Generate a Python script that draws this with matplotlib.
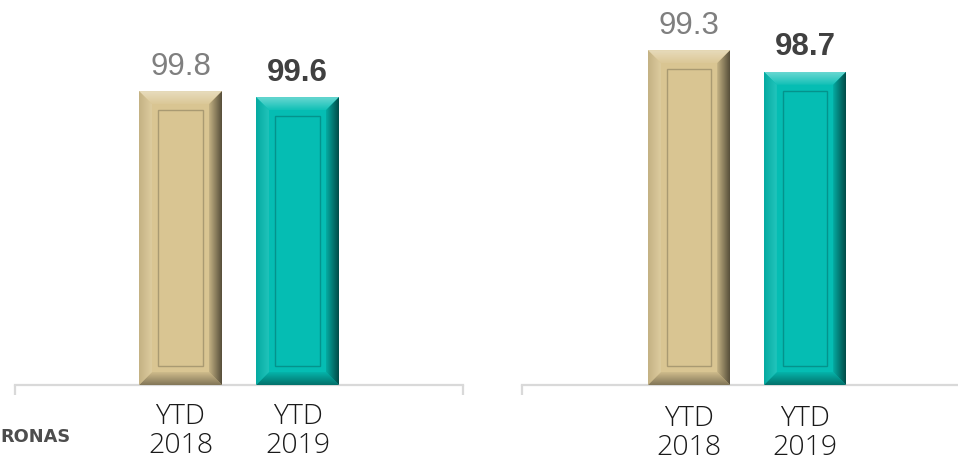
import matplotlib
matplotlib.use('Agg')
import matplotlib.pyplot as plt
import numpy as np
from matplotlib.colors import to_rgb
from matplotlib.patches import Polygon

# data
categories = ['YTD\n2018', 'YTD\n2019']
left_values = [99.8, 99.6]
right_values = [99.3, 98.7]
base_value = 90
bar_colors = ['#D9C592', '#05BDB3']
label_colors = ['#7F7F7F', '#404040']
label_weights = ['normal', 'bold']


def mix(c, other, t):
    c = np.array(to_rgb(c))
    o = np.array(to_rgb(other))
    return c * (1 - t) + o * t


def grad_fill(ax, poly_px, extent_px, c_from, c_to, horizontal):
    # poly and extent in pixel coords -> data coords
    inv = ax.transData.inverted()
    poly = inv.transform(poly_px)
    (x0, y0), (x1, y1) = inv.transform(extent_px)
    n = 40
    t = np.linspace(0, 1, n)
    cols = np.array([c_from * (1 - s) + c_to * s for s in t])
    if horizontal:
        img = cols.reshape(1, n, 3)
    else:
        img = cols.reshape(n, 1, 3)
    im = ax.imshow(img, extent=[x0, x1, y0, y1], origin='lower',
                   aspect='auto', interpolation='bilinear', zorder=3)
    clip = Polygon(poly, closed=True, transform=ax.transData)
    im.set_clip_path(clip)


def bevel(ax, bar, color, b=13, inset=6):
    x0, y0 = bar.get_x(), bar.get_y()
    x1, y1 = x0 + bar.get_width(), y0 + bar.get_height()
    (px0, py0), (px1, py1) = ax.transData.transform([(x0, y0), (x1, y1)])
    ix0, iy0, ix1, iy1 = px0 + b, py0 + b, px1 - b, py1 - b
    base = np.array(to_rgb(color))
    # top (gradient bottom->top: inner -> outer)
    grad_fill(ax, [(px0, py1), (px1, py1), (ix1, iy1), (ix0, iy1)],
              [(px0, iy1), (px1, py1)], mix(base, 'white', 0.05),
              mix(base, 'white', 0.4), False)
    # bottom
    grad_fill(ax, [(px0, py0), (px1, py0), (ix1, iy0), (ix0, iy0)],
              [(px0, py0), (px1, iy0)], mix(base, 'black', 0.4),
              mix(base, 'black', 0.05), False)
    # left
    grad_fill(ax, [(px0, py0), (ix0, iy0), (ix0, iy1), (px0, py1)],
              [(px0, py0), (ix0, py1)], mix(base, 'black', 0.1),
              mix(base, 'white', 0.12), True)
    # right
    grad_fill(ax, [(px1, py0), (ix1, iy0), (ix1, iy1), (px1, py1)],
              [(ix1, py0), (px1, py1)], mix(base, 'black', 0.1),
              mix(base, 'black', 0.6), True)
    # inner panel line
    inv = ax.transData.inverted()
    r = inv.transform([(ix0 + inset, iy0 + inset), (ix1 - inset, iy1 - inset)])
    ax.add_patch(plt.Rectangle(r[0], r[1][0] - r[0][0], r[1][1] - r[0][1],
                               fill=False, ec=mix(base, 'black', 0.22),
                               lw=1.0, zorder=4))


fig = plt.figure(figsize=(9.58, 4.64), dpi=100)
ax1 = fig.add_axes([15 / 958, 78 / 464, 448 / 958, 386 / 464])
ax2 = fig.add_axes([522 / 958, 78 / 464, 450 / 958, 386 / 464])

setups = [(ax1, left_values, (-1.4145, 2.4145), (base_value, 102.87), 12.5),
          (ax2, right_values, (-1.44, 2.44), (base_value, 100.72), 13.5)]

x = np.arange(len(categories))
for ax, vals, xl, yl, pad in setups:
    heights = np.array(vals) - base_value
    bars = ax.bar(x, heights, width=0.71, bottom=base_value,
                  color=bar_colors, zorder=2)
    ax.set_xlim(*xl)
    ax.set_ylim(*yl)
    for s in ['top', 'left', 'right']:
        ax.spines[s].set_visible(False)
    ax.spines['bottom'].set_color('#D9D9D9')
    ax.spines['bottom'].set_linewidth(1.6)
    ax.set_yticks([])
    ax.set_xticks(x)
    ax.set_xticklabels(categories, fontsize=20.5, family='Open Sans',
                       fontweight='light', color='#1A1A1A', linespacing=1.05)
    ax.tick_params(axis='x', which='major', length=0, pad=pad)
    ax.set_xticks(list(xl), minor=True)
    ax.tick_params(axis='x', which='minor', length=7, width=1.6,
                   color='#D9D9D9')
    for bar, color in zip(bars, bar_colors):
        bevel(ax, bar, color)
    ax.set_xlim(*xl)
    ax.set_ylim(*yl)
    for i, v in enumerate(vals):
        ax.annotate(f'{v:.1f}', (x[i], v), xytext=(0, 12.5),
                    textcoords='offset points', ha='center', va='baseline',
                    fontsize=22.5, family='Liberation Sans',
                    color=label_colors[i], fontweight=label_weights[i],
                    zorder=5)

fig.text(0.0, 1 - 437 / 464, 'RONAS', ha='left', va='center',
         fontsize=12.8, fontweight='bold', family='DejaVu Sans',
         color='#4D4D4D')

fig.savefig('out.png', dpi=100)
